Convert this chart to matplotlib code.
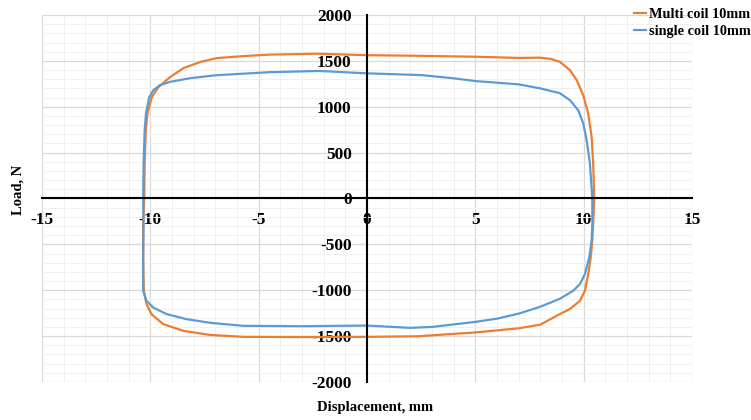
import numpy as np
import matplotlib.pyplot as plt
from matplotlib.ticker import MultipleLocator

# Multi coil 10mm loop (displacement mm, load N)
multi_x = [10.49, 10.44, 10.37, 10.21, 9.98, 9.68, 9.37, 8.9, 8.5, 8.0, 7.0, 5.0, 2.5, 0.0,
           -2.3, -4.5, -5.7, -6.94, -7.7, -8.47, -9.09, -9.63, -9.93, -10.13, -10.21, -10.26,
           -10.28, -10.33, -10.33, -10.3, -10.18, -9.95, -9.4, -8.47, -7.24, -5.7, -3.0, 0.0,
           2.3, 5.0, 7.0, 8.0, 8.9, 9.37, 9.83, 10.06, 10.21, 10.33, 10.4, 10.44, 10.49]
multi_y = [0, 382, 667, 929, 1126, 1290, 1399, 1490, 1520, 1535, 1532, 1545, 1555, 1562,
           1578, 1568, 1552, 1530, 1487, 1421, 1323, 1213, 1104, 929, 743, 382,
           0, -273, -641, -1005, -1150, -1260, -1370, -1443, -1487, -1508, -1510, -1508,
           -1502, -1460, -1415, -1375, -1260, -1204, -1115, -1005, -823, -641, -459, -273, 0]

# single coil 10mm loop
single_x = [10.4, 10.29, 10.14, 9.98, 9.75, 9.37, 8.9, 8.0, 7.0, 5.0, 4.0, 2.5, 0.0,
            -2.2, -4.46, -6.94, -8.17, -9.1, -9.56, -9.86, -10.05, -10.2, -10.26, -10.31,
            -10.33, -10.31, -10.33, -10.33, -10.18, -9.87, -9.25, -8.33, -7.24, -5.7, -3.0, 0.0,
            2.0, 3.0, 5.0, 6.0, 7.0, 8.0, 8.9, 9.52, 9.83, 10.06, 10.26, 10.37, 10.4, 10.4]
single_y = [0, 382, 634, 820, 962, 1071, 1148, 1200, 1244, 1280, 1310, 1345, 1364,
            1390, 1377, 1344, 1311, 1271, 1235, 1180, 1104, 929, 743, 382,
            0, -273, -641, -1005, -1115, -1188, -1260, -1315, -1355, -1388, -1392, -1385,
            -1410, -1400, -1345, -1310, -1255, -1180, -1093, -1005, -933, -823, -641, -459, -273, 0]

plt.rcParams['font.family'] = 'Liberation Serif'
plt.rcParams['font.weight'] = 'bold'
plt.rcParams['axes.unicode_minus'] = False

fig = plt.figure(figsize=(7.51, 4.2), dpi=100)
ax = fig.add_axes([0.0559, 0.0905, 0.8655, 0.8738])

ax.plot(multi_x, multi_y, color='#ED7D31', lw=1.6, label='Multi coil 10mm')
ax.plot(single_x, single_y, color='#5B9BD5', lw=1.6, label='single coil 10mm')

ax.set_xlim(-15, 15)
ax.set_ylim(-2000, 2000)
ax.xaxis.set_major_locator(MultipleLocator(5))
ax.xaxis.set_minor_locator(MultipleLocator(1))
ax.yaxis.set_major_locator(MultipleLocator(500))
ax.yaxis.set_minor_locator(MultipleLocator(100))
ax.grid(which='major', color='#D9D9D9', lw=0.9)
ax.grid(which='minor', color='#F0F0F0', lw=0.7)
ax.set_axisbelow(True)

ax.spines['left'].set_position(('data', 0))
ax.spines['bottom'].set_position(('data', 0))
ax.spines['top'].set_visible(False)
ax.spines['right'].set_visible(False)
ax.spines['left'].set_linewidth(1.5)
ax.spines['bottom'].set_linewidth(1.5)
ax.tick_params(which='both', length=0)
ax.tick_params(axis='x', pad=10, labelsize=12.5)
ax.tick_params(axis='y', pad=11, labelsize=12.5)
for t in ax.get_xticklabels() + ax.get_yticklabels():
    t.set_fontweight('bold')

fig.text(0.5, 0.03, 'Displacement, mm', ha='center', va='center', fontsize=10.5, fontweight='bold')
fig.text(0.024, 0.548, 'Load, N', ha='center', va='center', rotation=90, fontsize=10.5, fontweight='bold')

# legend squeezed in so the labels stay inside the figure
fig.legend(loc='upper left', bbox_to_anchor=(0.836, 0.995), frameon=False, fontsize=10.3,
           handlelength=0.9, handletextpad=0.15, labelspacing=0.3, borderaxespad=0)

fig.savefig('out.png', dpi=100)
